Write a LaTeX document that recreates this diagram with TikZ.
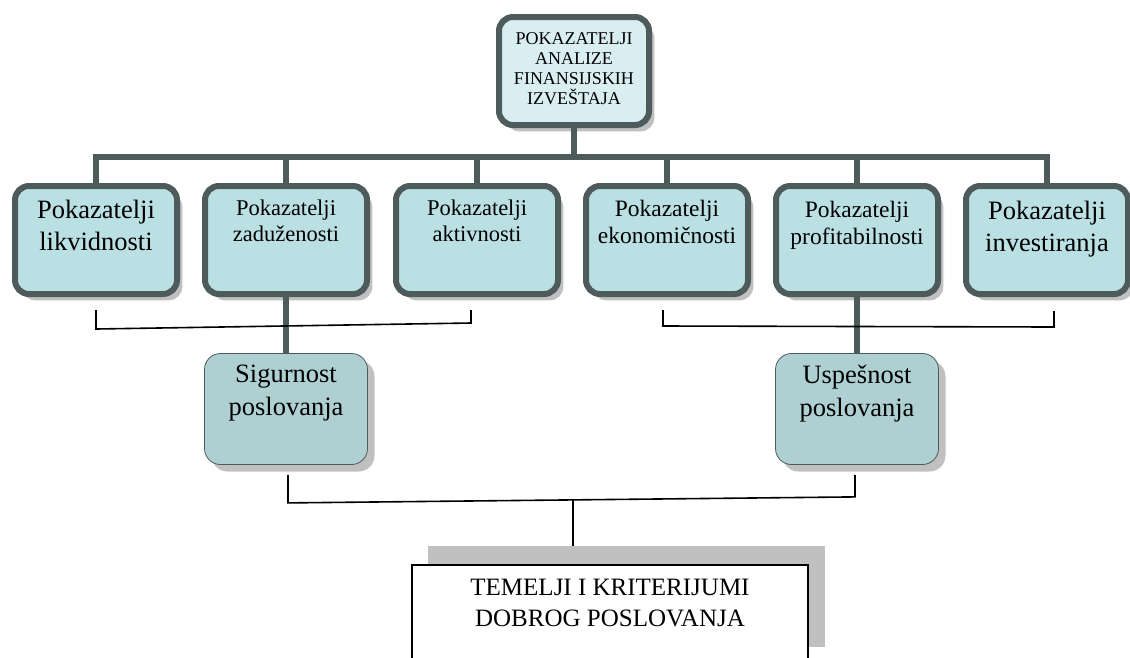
\documentclass[tikz,border=0pt]{standalone}
\usepackage{fontspec}
\setmainfont{Liberation Serif}
\usetikzlibrary{shadows}

\definecolor{frameslate}{HTML}{4E5B5B}
\definecolor{rowfill}{HTML}{BAE0E4}
\definecolor{topfill}{HTML}{D8EEF0}
\definecolor{resfill}{HTML}{AFD0D3}
\definecolor{shadegray}{HTML}{C0C0C0}

\begin{document}
\begin{tikzpicture}[x=1pt,y=1pt,
  framebox/.style={draw=frameslate, line width=6pt, rounded corners=14pt,
    minimum width=162pt, minimum height=108pt, inner sep=0pt,
    general shadow={fill=shadegray, draw=white, line width=1.2pt,
      shadow xshift=6pt, shadow yshift=-7pt}},
  rowbox/.style={framebox, fill=rowfill},
  topbox/.style={framebox, fill=topfill, minimum width=150pt},
  resbox/.style={draw=frameslate, line width=0.8pt, fill=resfill, rounded corners=16pt,
    minimum width=163pt, minimum height=111pt, inner sep=0pt,
    general shadow={fill=shadegray, shadow xshift=7pt, shadow yshift=-7pt}},
  basebox/.style={draw=black, line width=1.5pt, fill=white,
    minimum width=396pt, minimum height=101pt, inner sep=0pt},
  baseshade/.style={fill=shadegray, minimum width=397pt, minimum height=101pt, inner sep=0pt},
  lbl/.style={anchor=north, align=center, inner sep=0pt},
  toptext/.style={lbl, font=\fontsize{18}{20}\selectfont},
  bigtext/.style={lbl, font=\fontsize{26.5}{31.5}\selectfont},
  midtext/.style={lbl, font=\fontsize{22.5}{26}\selectfont},
  medtext/.style={lbl, font=\fontsize{23.5}{27}\selectfont},
  restext/.style={lbl, font=\fontsize{26.5}{33}\selectfont},
  basetext/.style={lbl, font=\fontsize{25}{31}\selectfont},
  bus/.style={draw=frameslate, line width=6pt},
  thinline/.style={draw=black, line width=1.6pt}
]
\useasboundingbox (0,0) rectangle (1130,-657);
\clip (0,0) rectangle (1130,-657);

% top of the hierarchy
\node[topbox] (top) at (574,-71) {};
\node[toptext] (ttop) at ([yshift=-18pt]top.north)
  {POKAZATELJI\\ANALIZE\\FINANSIJSKIH\\IZVEŠTAJA};

% six groups of ratios
\node[rowbox] (b1) at (96,-240) {};
\node[rowbox] (b2) at (286,-240) {};
\node[rowbox] (b3) at (477,-240) {};
\node[rowbox] (b4) at (667,-240) {};
\node[rowbox] (b5) at (857,-240) {};
\node[rowbox] (b6) at (1047,-240) {};
\node[bigtext] (t1) at ([yshift=-17pt]b1.north) {Pokazatelji\\likvidnosti};
\node[midtext] (t2) at ([yshift=-17pt]b2.north) {Pokazatelji\\zaduženosti};
\node[midtext] (t3) at ([yshift=-17pt]b3.north) {Pokazatelji\\aktivnosti};
\node[medtext] (t4) at ([yshift=-17pt]b4.north) {Pokazatelji\\ekonomičnosti};
\node[medtext] (t5) at ([yshift=-18pt]b5.north) {Pokazatelji\\profitabilnosti};
\node[bigtext] (t6) at ([yshift=-18pt]b6.north) {Pokazatelji\\investiranja};

% two aspects of business
\node[resbox] (sig) at (286,-409) {};
\node[resbox] (usp) at (857,-409) {};
\node[restext] (tsig) at ([yshift=-12pt]sig.north) {Sigurnost\\poslovanja};
\node[restext] (tusp) at ([yshift=-12pt]usp.north) {Uspešnost\\poslovanja};

% foundation box with its offset shade
\node[baseshade] (botshade) at (626.5,-596.5) {};
\node[basebox] (bot) at (610,-615.5) {};
\node[basetext] (tbot) at ([yshift=-15pt]bot.north)
  {TEMELJI I KRITERIJUMI\\DOBROG POSLOVANJA};

% thick bus from the top box to every group
\draw[bus] (top.south) -- ++(0,-29) -| (b1.north);
\draw[bus] (top.south) -- ++(0,-29) -| (b2.north);
\draw[bus] (top.south) -- ++(0,-29) -| (b3.north);
\draw[bus] (top.south) -- ++(0,-29) -| (b4.north);
\draw[bus] (top.south) -- ++(0,-29) -| (b5.north);
\draw[bus] (top.south) -- ++(0,-29) -| (b6.north);
\draw[bus] (b2.south) -- (sig.north);
\draw[bus] (b5.south) -- (usp.north);

% thin brackets grouping the ratios
\draw[thinline] ([yshift=-13pt]b1.south) -- ([yshift=-32pt]b1.south)
  -- ([xshift=-6pt,yshift=-26pt]b3.south) -- ([xshift=-6pt,yshift=-13pt]b3.south);
\draw[thinline] ([xshift=-4pt,yshift=-13pt]b4.south) -- ([xshift=-4pt,yshift=-29pt]b4.south)
  -- ([xshift=7pt,yshift=-30pt]b6.south) -- ([xshift=7pt,yshift=-14pt]b6.south);
\draw[thinline] ([xshift=2pt,yshift=-10pt]sig.south) -- ([xshift=2pt,yshift=-38pt]sig.south)
  -- ([xshift=-2pt,yshift=-32pt]usp.south) -- ([xshift=-2pt,yshift=-10pt]usp.south);
\coordinate (bmid) at (573,-500);
\draw[thinline] (bmid) -- (bmid |- botshade.north);
\end{tikzpicture}
\end{document}
